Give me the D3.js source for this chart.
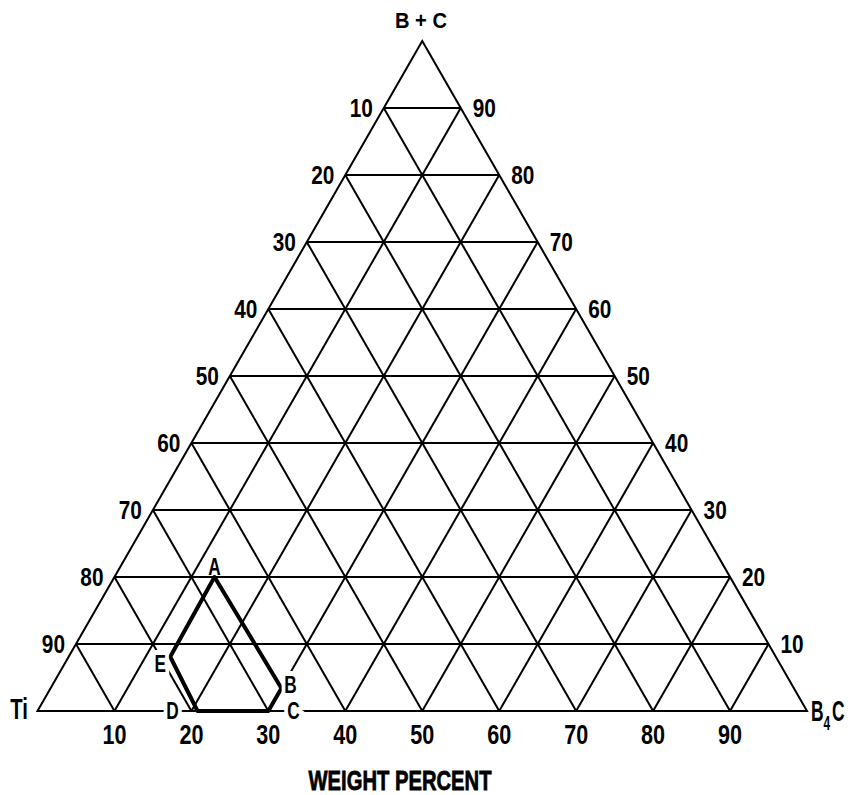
<!DOCTYPE html>
<html>
<head>
<meta charset="utf-8">
<script src="https://cdn.jsdelivr.net/npm/d3@7"></script>
<style>
  body { margin: 0; background: #fff; }
  svg text { font-family: "Liberation Sans", Arial, sans-serif; font-weight: bold; fill: #000; }
</style>
</head>
<body>
<svg width="848" height="795"></svg>
<script>
// grid levels (percent)
const gridLevels = [10, 20, 30, 40, 50, 60, 70, 80, 90];
// left edge labels: Ti %, right edge: B+C %, bottom: B4C %
const leftTicks = [10, 20, 30, 40, 50, 60, 70, 80, 90];
const rightTicks = [10, 20, 30, 40, 50, 60, 70, 80, 90];
const bottomTicks = [10, 20, 30, 40, 50, 60, 70, 80, 90];
// composition region A-B-C-D-E (b4c = B4C %, bc = B+C %)
const regionLabels = ['A', 'B', 'C', 'D', 'E'];
const regionB4C = [13, 30, 30, 20.8, 13.2];
const regionBC = [20, 3.4, 0, 0, 8.1];

// narrow lettering: squeeze glyphs horizontally
const NARROW = 0.8;

let svg = d3.select('svg');
let xScale = d3.scaleLinear().domain([0, 100]).range([37.5, 807]);
let yScale = d3.scaleLinear().domain([0, 100]).range([711, 41]);

// ternary -> screen
function px(b4c, bc) { return xScale(b4c + bc / 2); }
function py(bc) { return yScale(bc); }
function place(x, y, sx) { return 'translate(' + x + ',' + y + ') scale(' + (sx || NARROW) + ',1)'; }

// grid lines, three directions
let lines = [];
gridLevels.forEach(function(k) {
    lines.push([[0, k], [100 - k, k]]);        // constant B+C
    lines.push([[k, 0], [k, 100 - k]]);        // constant B4C
    lines.push([[100 - k, 0], [0, 100 - k]]);  // constant Ti
});
svg.append('g')
    .attr('class', 'grid')
    .selectAll('line')
    .data(lines)
    .enter()
    .append('line')
    .attr('x1', function(d) { return px(d[0][0], d[0][1]); })
    .attr('y1', function(d) { return py(d[0][1]); })
    .attr('x2', function(d) { return px(d[1][0], d[1][1]); })
    .attr('y2', function(d) { return py(d[1][1]); })
    .attr('stroke', '#000')
    .attr('stroke-width', 2);

// outer triangle
let corners = [[0, 0], [100, 0], [0, 100]];
svg.append('path')
    .attr('d', d3.line()
        .x(function(d) { return px(d[0], d[1]); })
        .y(function(d) { return py(d[1]); })(corners) + 'Z')
    .attr('fill', 'none')
    .attr('stroke', '#000')
    .attr('stroke-width', 2);

// region polygon
let region = regionLabels.map(function(l, i) { return [regionB4C[i], regionBC[i], l]; });
svg.append('path')
    .attr('d', d3.line()
        .x(function(d) { return px(d[0], d[1]); })
        .y(function(d) { return py(d[1]); })(region) + 'Z')
    .attr('fill', 'none')
    .attr('stroke', '#000')
    .attr('stroke-width', 4)
    .attr('stroke-linejoin', 'round');

// region vertex labels (white halo breaks the lines underneath)
let labelOffset = { A: [0, -10], B: [9, -4], C: [25, 0], D: [-25, 0], E: [-10, 7] };
svg.append('g')
    .selectAll('text')
    .data(region)
    .enter()
    .append('text')
    .attr('transform', function(d) {
        return place(px(d[0], d[1]) + labelOffset[d[2]][0], py(d[1]) + labelOffset[d[2]][1], 0.75);
    })
    .attr('dy', '0.36em')
    .attr('text-anchor', 'middle')
    .attr('font-size', 23)
    .attr('stroke', function(d) { return d[2] === 'A' ? 'none' : '#fff'; })
    .attr('stroke-width', 10)
    .attr('paint-order', 'stroke')
    .text(function(d) { return d[2]; });

// left edge labels
svg.append('g')
    .selectAll('text')
    .data(leftTicks)
    .enter()
    .append('text')
    .attr('transform', function(d) { return place(px(0, 100 - d) - 11, py(100 - d)); })
    .attr('dy', '0.36em')
    .attr('text-anchor', 'end')
    .attr('font-size', 26)
    .text(function(d) { return d; });

// right edge labels
svg.append('g')
    .selectAll('text')
    .data(rightTicks)
    .enter()
    .append('text')
    .attr('transform', function(d) { return place(px(100 - d, d) + 12, py(d)); })
    .attr('dy', '0.36em')
    .attr('text-anchor', 'start')
    .attr('font-size', 26)
    .text(function(d) { return d; });

// bottom labels
svg.append('g')
    .selectAll('text')
    .data(bottomTicks)
    .enter()
    .append('text')
    .attr('transform', function(d) { return place(px(d, 0), 744); })
    .attr('text-anchor', 'middle')
    .attr('font-size', 27)
    .text(function(d) { return d; });

// corner names
svg.append('text')
    .attr('x', 421).attr('y', 28)
    .attr('text-anchor', 'middle')
    .attr('font-size', 22)
    .attr('textLength', 52)
    .attr('lengthAdjust', 'spacingAndGlyphs')
    .text('B + C');
svg.append('text')
    .attr('transform', place(28, 719, 0.7))
    .attr('text-anchor', 'end')
    .attr('font-size', 29)
    .text('Ti');
let b4c = svg.append('text')
    .attr('transform', place(811, 721, 0.6))
    .attr('font-size', 29);
b4c.append('tspan').text('B');
b4c.append('tspan').attr('dy', 9).attr('font-size', 20).text('4');
b4c.append('tspan').attr('dy', -9).attr('dx', 3).text('C');

// axis title
svg.append('text')
    .attr('x', 400).attr('y', 790)
    .attr('text-anchor', 'middle')
    .attr('font-size', 28)
    .attr('textLength', 183)
    .attr('lengthAdjust', 'spacingAndGlyphs')
    .attr('stroke', '#000')
    .attr('stroke-width', 0.8)
    .text('WEIGHT PERCENT');
</script>
</body>
</html>
